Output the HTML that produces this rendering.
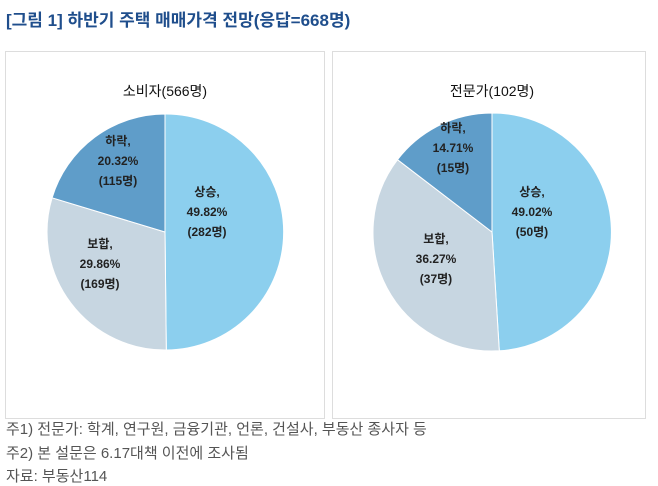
<!DOCTYPE html>
<html><head><meta charset="utf-8"><style>
body{margin:0;width:658px;height:485px;background:#fff;font-family:"Liberation Sans","Noto Sans CJK KR",sans-serif;overflow:hidden}
.t{position:absolute;left:6px;top:6px;font-size:17px;font-weight:bold;color:#1f4e8c}
.box{position:absolute;top:51px;height:368px;border:1px solid #ddd;box-sizing:border-box}
.n{position:absolute;left:6px;font-size:15px;color:#555}
</style></head><body>
<div class="t">[그림 1] 하반기 주택 매매가격 전망(응답=668명)</div>
<div class="box" style="left:5px;width:320px"></div>
<div class="box" style="left:332px;width:314px"></div>
<svg style="position:absolute;left:0;top:0" width="658" height="485" font-family="Liberation Sans, Noto Sans CJK KR, sans-serif" font-weight="bold" font-size="12" fill="#222" text-anchor="middle">
<text x="165" y="96" font-size="14" font-weight="normal" fill="#111">소비자(566명)</text>
<text x="492" y="96" font-size="14" font-weight="normal" fill="#111">전문가(102명)</text>
<path d="M165,232 L165,114 A118,118 0 0 1 166.3,350 Z" fill="#8ccfee" stroke="#fff"/>
<path d="M165,232 L166.3,350 A118,118 0 0 1 52.1,197.8 Z" fill="#c7d6e1" stroke="#fff"/>
<path d="M165,232 L52.1,197.8 A118,118 0 0 1 165,114 Z" fill="#5f9dc9" stroke="#fff"/>
<path d="M492,232 L492,113 A119,119 0 0 1 499.3,350.8 Z" fill="#8ccfee" stroke="#fff"/>
<path d="M492,232 L499.3,350.8 A119,119 0 0 1 397.5,159.7 Z" fill="#c7d6e1" stroke="#fff"/>
<path d="M492,232 L397.5,159.7 A119,119 0 0 1 492,113 Z" fill="#5f9dc9" stroke="#fff"/>
<text x="207" y="196">상승,</text><text x="207" y="216">49.82%</text><text x="207" y="236">(282명)</text>
<text x="100" y="248">보합,</text><text x="100" y="268">29.86%</text><text x="100" y="288">(169명)</text>
<text x="118" y="145">하락,</text><text x="118" y="165">20.32%</text><text x="118" y="185">(115명)</text>
<text x="532" y="196">상승,</text><text x="532" y="216">49.02%</text><text x="532" y="236">(50명)</text>
<text x="436" y="243">보합,</text><text x="436" y="263">36.27%</text><text x="436" y="283">(37명)</text>
<text x="453" y="132">하락,</text><text x="453" y="152">14.71%</text><text x="453" y="172">(15명)</text>
</svg>
<div class="n" style="top:418px">주1) 전문가: 학계, 연구원, 금융기관, 언론, 건설사, 부동산 종사자 등</div>
<div class="n" style="top:442px">주2) 본 설문은 6.17대책 이전에 조사됨</div>
<div class="n" style="top:465px">자료: 부동산114</div>
</body></html>
